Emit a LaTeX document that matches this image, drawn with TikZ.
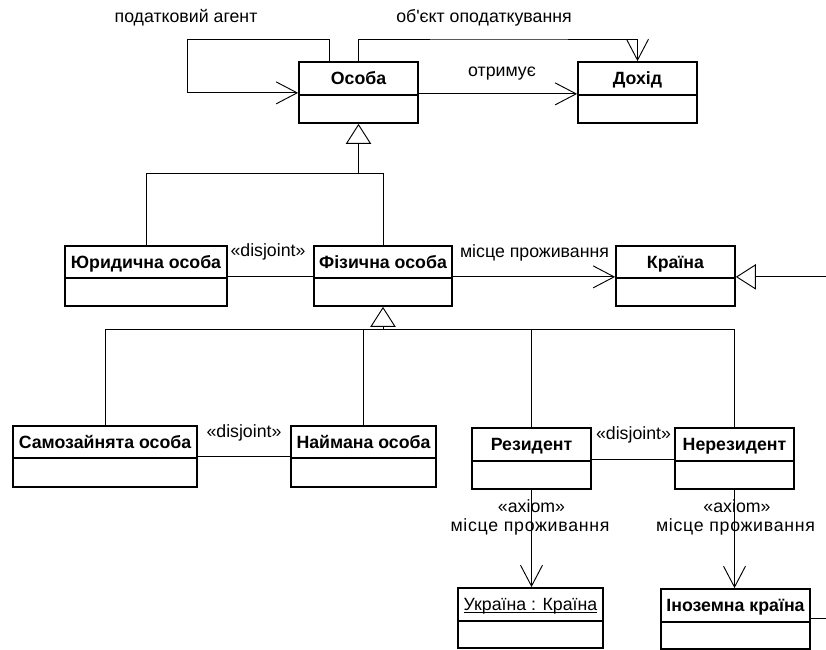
\documentclass[tikz,border=0pt]{standalone}
\usepackage{fontspec}
\setmainfont{Liberation Sans}
\newfontfamily\rawsans{Liberation Sans}[Ligatures=TeXOff]
\usetikzlibrary{arrows.meta}
\tikzset{
  basefont/.style={font=\fontsize{13.3}{16}\selectfont},
  namebox/.style={draw, line width=1.3pt, inner sep=0pt, basefont, text height=9.5pt, text depth=0pt},
  bodybox/.style={draw, line width=1.3pt, inner sep=0pt},
  conn/.style={line width=0.7pt},
  assoc/.style={conn, -{Straight Barb[length=15.75pt, width=16.5pt]}},
  gen/.style={conn, -{Triangle[open, length=15pt, width=19pt, fill=white]}},
  lbl/.style={basefont, anchor=base, inner sep=0pt},
}
\newcommand\umlcls[7]{%
  \node[namebox, minimum width={(#4-#2)*0.75pt}, minimum height={(#5-#3)*0.75pt}]
    (#1) at ({(#2+#4)/2},{(#3+#5)/2}) {#7};
  \node[bodybox, minimum width={(#4-#2)*0.75pt}, minimum height={(#6-#5)*0.75pt}]
    (#1b) at ({(#2+#4)/2},{(#5+#6)/2}) {};
}
\begin{document}
\begin{tikzpicture}[x=0.75pt, y=-0.75pt]
\useasboundingbox (0,0) rectangle (826,650);
\clip (0,0) rectangle (826,650);
\fill[white] (0,0) rectangle (826,650);

% classes
\umlcls{osoba}{299}{62}{418}{95}{123}{\bfseries Особа}
\umlcls{dohid}{578}{62}{697}{95}{123}{\bfseries Дохід}
\umlcls{jur}{65}{246}{227}{278}{306}{\bfseries Юридична особа}
\umlcls{fiz}{314}{246}{452}{278}{306}{\bfseries Фізична особа}
\umlcls{kr}{616}{246}{735}{278}{306}{\bfseries Країна}
\umlcls{sam}{13}{426}{197}{458}{487}{\bfseries Самозайнята особа}
\umlcls{najm}{291}{426}{436}{458}{487}{\bfseries Наймана особа}
\umlcls{rez}{472}{428}{591}{461}{489}{\bfseries Резидент}
\umlcls{nerez}{675}{428}{794}{461}{489}{\bfseries Нерезидент}
\umlcls{ukr}{458}{588}{603}{621}{648}{\underline{\smash{Україна : Країна}}}
\umlcls{inoz}{661}{589}{810}{622}{649}{\bfseries Іноземна країна}

% top associations
\coordinate (lp) at (187,39);
\coordinate (lq) at (500,39);
\draw[assoc] ([xshift=-22.1pt]osoba.north) |- (lp) |- ([yshift=2.25pt]osoba.south west);
\draw[assoc] (osoba.north) |- (lq) -| (dohid.north);
\draw[assoc] ([yshift=1.5pt]osoba.south east) -- ([yshift=1.5pt]dohid.south west);

\node[lbl] (l1) at (186,22.5) {податковий агент};
\node[lbl] (l2) at (484,22.5) {\rawsans об'єкт оподаткування};
\node[lbl] (l3) at (502,76) {отримує};

% generalization Особа
\path (osobab.south) ++(0,50) coordinate (g1);
\draw[gen] (g1) -- (osobab.south);
\draw[conn] (jur.north) |- (g1) -| (fiz.north);

% row 2
\draw[conn] ([yshift=1.5pt]jur.south east) -- ([yshift=1.5pt]fiz.south west);
\draw[assoc] ([yshift=1.5pt]fiz.south east) -- ([yshift=1.5pt]kr.south west);
\node[lbl] (l4) at (268,256) {«disjoint»};
\node[lbl] (l5) at (534.5,257) {місце проживання};

% generalization Фізична особа
\path (fizb.south) ++(0,23) coordinate (g2);
\draw[gen] (g2) -- (fizb.south);
\draw[conn] (sam.north) |- (g2) -| (nerez.north);
\draw[conn] (najm.north) -- (najm.north |- g2);
\draw[conn] (rez.north) -- (rez.north |- g2);

% row 3
\draw[conn] ([yshift=1.5pt]sam.south east) -- ([yshift=1.5pt]najm.south west);
\draw[conn] ([yshift=1.5pt]rez.south east) -- ([yshift=1.5pt]nerez.south west);
\node[lbl] (l6) at (244,437) {«disjoint»};
\node[lbl] (l7) at (633.5,439) {«disjoint»};

% axioms
\draw[assoc] (rezb.south) -- (rezb.south |- ukr.north);
\draw[assoc] (nerezb.south) -- (nerezb.south |- inoz.north);
\node[lbl] (l8) at (531.5,512) {«axiom»};
\node[lbl] (l9) at (530,531) {\addfontfeature{LetterSpace=4}місце проживання};
\node[lbl] (l10) at (737,512) {«axiom»};
\node[lbl] (l11) at (735.5,531) {\addfontfeature{LetterSpace=4}місце проживання};

% generalization Іноземна країна -> Країна (routed outside the frame)
\draw[gen] ([yshift=3pt]inoz.south east) -- ++(40,0) |- ([yshift=1.5pt]kr.south east);
\end{tikzpicture}
\end{document}
